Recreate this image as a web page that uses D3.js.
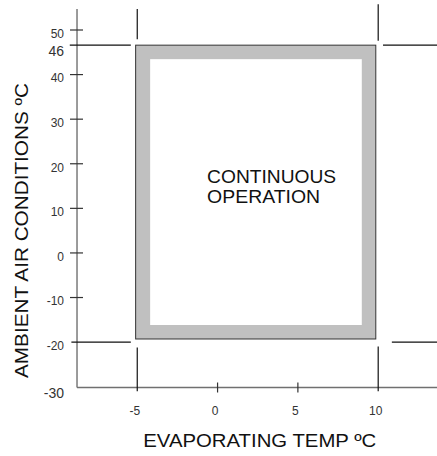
<!DOCTYPE html>
<html>
<head>
<meta charset="utf-8">
<script src="https://cdn.jsdelivr.net/npm/d3@7/dist/d3.min.js"></script>
<style>
  html, body { margin: 0; padding: 0; background: #fff; }
  svg { display: block; font-family: "Liberation Sans", Arial, sans-serif; }
</style>
</head>
<body>
<svg id="chart" width="437" height="456"></svg>
<script>
// ---- data ----
const xTicks = [-5, 0, 5, 10];
const yTicks = [50, 46, 40, 30, 20, 10, 0, -10, -20, -30];
const largeYLabels = [46, -30];
const xAxisExtent = [-8.75, 13.7];
const yAxisExtent = [-30, 54.7];
const envelopeX = [-5.1, 9.85];
const envelopeY = [-19.3, 46.6];
const envelopeLabel = ["CONTINUOUS", "OPERATION"];
const envelopeLabelPos = [-0.65, 15.6];
// guide lines (data units): [fixed value, from, to]
const vGuides = [
  [-5, 54.7, 47.9], [-5, -21.2, -31.0],
  [10, 55.8, 47.6], [10, -21.0, -31.0]
];
const hGuides = [
  [46.6, -9.2, -5.4], [46.6, 10.3, 13.7],
  [-20, -9.1, -5.4], [-20, 10.85, 13.7]
];
const xTitle = "EVAPORATING TEMP ºC";
const yTitle = "AMBIENT AIR CONDITIONS ºC";

// ---- scales ----
const x = d3.scaleLinear().domain([-5, 10]).range([137.25, 378.2]);
const y = d3.scaleLinear().domain([-30, 50]).range([386.7, 30]);

const svg = d3.select("#chart");
const axisColor = "#707070";
const guideColor = "#111";

// envelope
const band = 14;
const ex0 = x(envelopeX[0]), ex1 = x(envelopeX[1]);
const ey0 = y(envelopeY[1]), ey1 = y(envelopeY[0]);
svg.append("rect")
  .attr("x", ex0).attr("y", ey0)
  .attr("width", ex1 - ex0).attr("height", ey1 - ey0)
  .attr("fill", "#c0c0c0").attr("stroke", "#333").attr("stroke-width", 1);
svg.append("rect")
  .attr("x", ex0 + band + 0.5).attr("y", ey0 + band)
  .attr("width", ex1 - ex0 - 2 * band - 0.5).attr("height", ey1 - ey0 - 2 * band)
  .attr("fill", "#fff");

// axes lines
svg.append("line")
  .attr("x1", x(xAxisExtent[0])).attr("x2", x(xAxisExtent[0]))
  .attr("y1", y(yAxisExtent[1])).attr("y2", y(yAxisExtent[0]) + 0.8)
  .attr("stroke", axisColor).attr("stroke-width", 1.4);
svg.append("line")
  .attr("x1", x(xAxisExtent[0])).attr("x2", x(xAxisExtent[1]))
  .attr("y1", y(yAxisExtent[0]) + 0.8).attr("y2", y(yAxisExtent[0]) + 0.8)
  .attr("stroke", axisColor).attr("stroke-width", 1.4);

const ax = x(xAxisExtent[0]);
const ay = y(yAxisExtent[0]) + 0.8;

// y ticks
svg.selectAll(".ytick").data(yTicks.filter(v => v !== 46 && v !== -30 && v !== -20))
  .enter().append("line")
  .attr("x1", ax - 7).attr("x2", ax + 6)
  .attr("y1", d => y(d)).attr("y2", d => y(d))
  .attr("stroke", "#333").attr("stroke-width", 1.2);
svg.selectAll(".ylab").data(yTicks).enter().append("text")
  .attr("x", ax - 13)
  .attr("y", d => {
    const fs = largeYLabels.includes(d) ? 14 : 12;
    return y(d) + 0.36 * fs + 3.5 + (d === -30 ? 2.5 : 0);
  })
  .attr("text-anchor", "end")
  .attr("font-size", d => largeYLabels.includes(d) ? 14 : 12)
  .attr("fill", "#333")
  .text(d => d);

// x ticks
svg.selectAll(".xtick").data(xTicks.filter(v => v !== -5 && v !== 10))
  .enter().append("line")
  .attr("x1", d => x(d)).attr("x2", d => x(d))
  .attr("y1", ay - 5).attr("y2", ay + 5)
  .attr("stroke", "#333").attr("stroke-width", 1.2);
svg.selectAll(".xlab").data(xTicks).enter().append("text")
  .attr("x", d => x(d) - 2.5)
  .attr("y", ay + 27.5)
  .attr("text-anchor", "middle")
  .attr("font-size", 12)
  .attr("fill", "#333")
  .text(d => d);

// guides
svg.selectAll(".vg").data(vGuides).enter().append("line")
  .attr("x1", d => x(d[0])).attr("x2", d => x(d[0]))
  .attr("y1", d => y(d[1])).attr("y2", d => y(d[2]))
  .attr("stroke", guideColor).attr("stroke-width", 1.2);
svg.selectAll(".hg").data(hGuides).enter().append("line")
  .attr("y1", d => y(d[0])).attr("y2", d => y(d[0]))
  .attr("x1", d => x(d[1])).attr("x2", d => x(d[2]))
  .attr("stroke", guideColor).attr("stroke-width", 1.2);

// envelope label
const lw = [129, 113];
svg.selectAll(".elab").data(envelopeLabel).enter().append("text")
  .attr("x", x(envelopeLabelPos[0]))
  .attr("y", (d, i) => y(envelopeLabelPos[1]) + i * 19.7)
  .attr("font-size", 17.5)
  .attr("fill", "#111")
  .attr("textLength", (d, i) => lw[i])
  .attr("lengthAdjust", "spacingAndGlyphs")
  .text(d => d);

// axis titles
svg.append("text")
  .attr("x", 143.3).attr("y", 447.3)
  .attr("font-size", 17.5).attr("fill", "#111")
  .attr("textLength", 233).attr("lengthAdjust", "spacingAndGlyphs")
  .text(xTitle);
svg.append("text")
  .attr("transform", "translate(27.5,378) rotate(-90)")
  .attr("font-size", 17.5).attr("fill", "#111")
  .attr("textLength", 295).attr("lengthAdjust", "spacingAndGlyphs")
  .text(yTitle);
</script>
</body>
</html>
